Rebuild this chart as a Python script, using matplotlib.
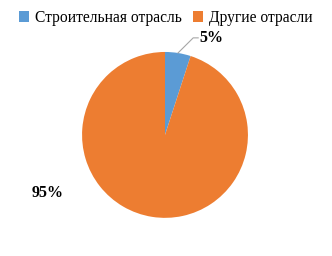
import matplotlib
matplotlib.use("Agg")
import matplotlib.pyplot as plt
import numpy as np

categories = ["Строительная отрасль", "Другие отрасли"]
shares = [5, 95]
colors = ["#5B9BD5", "#ED7D31"]

plt.rcParams["font.family"] = ["Liberation Serif", "DejaVu Serif"]

fig = plt.figure(figsize=(3.32, 2.56), dpi=100)
ax = fig.add_axes([0.247, 0.149, 0.5, 0.648])
wedges, _ = ax.pie(shares, colors=colors, startangle=90, counterclock=False,
                   radius=1.0, wedgeprops=dict(linewidth=0))
ax.set_xlim(-1, 1)
ax.set_ylim(-1, 1)
ax.set_aspect("equal")

# leader line for the small slice
w = wedges[0]
mid = np.deg2rad((w.theta1 + w.theta2) / 2)
x0, y0 = np.cos(mid), np.sin(mid)
ax.plot([x0, 0.34, 0.40], [y0, 1.17, 1.17], color="#A6A6A6", lw=0.8,
        clip_on=False)
ax.text(0.42, 1.17, f"{shares[0]}%", ha="left", va="center",
        fontsize=11.5, fontweight="bold", clip_on=False)
ax.text(-1.41, -0.70, f"{shares[1]}%", ha="center", va="center",
        fontsize=11.5, fontweight="bold", clip_on=False)

fig.legend(wedges, categories, loc="center", bbox_to_anchor=(0.5, 0.93),
           ncol=2, frameon=False, fontsize=11.2, handlelength=0.65,
           handleheight=0.65, handletextpad=0.4, columnspacing=0.7)

fig.savefig("out.png", dpi=100)
